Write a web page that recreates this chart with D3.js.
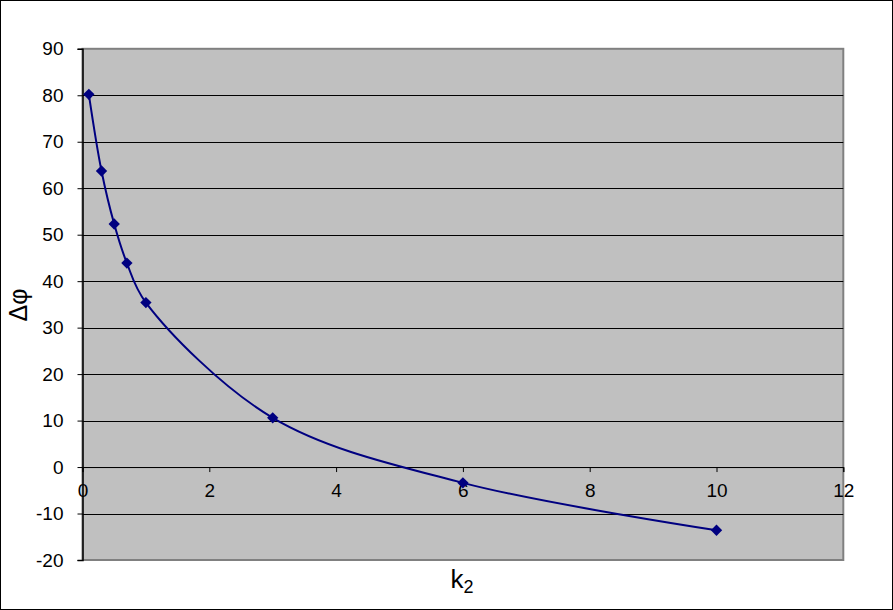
<!DOCTYPE html>
<html><head><meta charset="utf-8">
<script src="https://cdn.jsdelivr.net/npm/d3@7"></script>
<style>body{margin:0;background:#fff;} svg{display:block;font-family:Arial,"Liberation Sans",sans-serif;}</style>
</head><body>
<svg id="c" width="893" height="610"></svg>
<script>
const k2 = [0.1, 0.3, 0.5, 0.7, 1, 3, 6, 10];
const dphi = [80.2, 63.7, 52.3, 43.9, 35.4, 10.6, -3.4, -13.6];
const xTicks = [0, 2, 4, 6, 8, 10, 12];
const yTicks = [-20, -10, 0, 10, 20, 30, 40, 50, 60, 70, 80, 90];

const svg = d3.select("#c");
const L = 82.5, R = 843.3, T = 48.8, B = 560;
const x = d3.scaleLinear().domain([0, 12]).range([L, R]);
const y = d3.scaleLinear().domain([-20, 90]).range([B, T]);
const fmt = d => String(d);

// outer border
svg.append("rect").attr("x",0.5).attr("y",0.5).attr("width",892).attr("height",609)
  .attr("fill","#fff").attr("stroke","#000").attr("stroke-width",1);

// plot area
svg.append("rect").attr("x",L).attr("y",T).attr("width",R-L).attr("height",B-T)
  .attr("fill","#C0C0C0").attr("stroke","#808080").attr("stroke-width",2);

// gridlines
svg.append("g").selectAll("line").data(yTicks.filter(v=>v>-20 && v<90)).join("line")
  .attr("x1",L).attr("x2",R).attr("y1",d=>Math.round(y(d))+0.5).attr("y2",d=>Math.round(y(d))+0.5)
  .attr("stroke","#000").attr("stroke-width",1);

// y axis
const ya = svg.append("g").attr("transform",`translate(${L},0)`)
  .call(d3.axisLeft(y).tickValues(yTicks).tickSize(5).tickPadding(14).tickFormat(fmt));
ya.attr("font-size",null);
ya.select(".domain").attr("stroke","#000").attr("stroke-width",1.5);
ya.selectAll(".tick line").attr("stroke","#000");
ya.selectAll("text").style("font-size","19px").attr("fill","#000").attr("font-family","Arial, 'Liberation Sans', sans-serif");

// x axis at y=0
const xa = svg.append("g").attr("transform",`translate(0,${y(0)})`)
  .call(d3.axisBottom(x).tickValues(xTicks).tickSize(5).tickPadding(11).tickFormat(fmt));
xa.attr("font-size",null);
xa.select(".domain").attr("stroke","#000").attr("stroke-width",1);
xa.selectAll(".tick line").attr("stroke","#000");
xa.selectAll("text").style("font-size","19px").attr("fill","#000").attr("font-family","Arial, 'Liberation Sans', sans-serif");

// line
const pts = k2.map((v,i)=>[v, dphi[i]]);
const line = d3.line().x(d=>x(d[0])).y(d=>y(d[1])).curve(d3.curveCatmullRom.alpha(0.5));
svg.append("path").datum(pts).attr("d",line).attr("fill","none")
  .attr("stroke","#000080").attr("stroke-width",2);

// markers
svg.append("g").selectAll("path").data(pts).join("path")
  .attr("transform",d=>`translate(${x(d[0])},${y(d[1])}) rotate(45)`)
  .attr("d", d3.symbol().type(d3.symbolSquare).size(64))
  .attr("fill","#000080");

// axis titles
svg.append("text").attr("x",462).attr("y",588).attr("text-anchor","middle")
  .style("font-size","26px").attr("fill","#000")
  .html('k<tspan style="font-size:18px" dy="5">2</tspan>');
svg.append("text").attr("transform",`translate(27,305) rotate(-90)`)
  .attr("text-anchor","middle").style("font-size","25px").attr("fill","#000").text("Δφ");
</script>
</body></html>
